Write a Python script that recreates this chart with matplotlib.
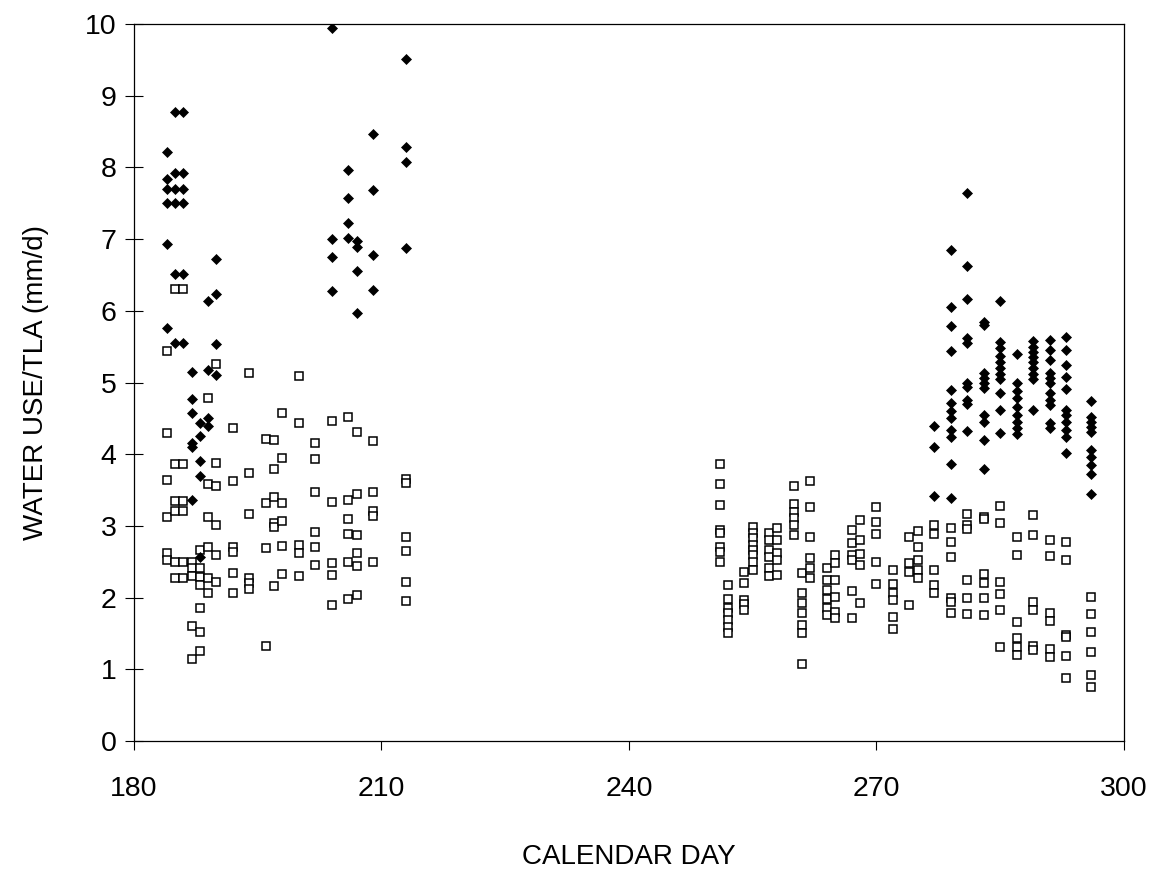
import matplotlib
matplotlib.use("Agg")
import matplotlib.pyplot as plt
import numpy as np

plt.rcParams['font.family'] = ['Liberation Sans', 'DejaVu Sans']

# ---- Data: filled diamonds (one group of readings per calendar day) ----
filled_days = [184, 185, 186, 187, 188, 189, 190,
               204, 206, 207, 209, 213,
               277, 279, 281, 283, 285, 287, 289, 291, 293, 296]
filled_vals = [
    [8.22, 7.84, 7.70, 7.51, 6.93, 5.76],
    [8.77, 7.92, 7.70, 7.51, 6.51, 5.55],
    [8.77, 7.92, 7.70, 7.51, 6.51, 5.55],
    [5.14, 4.77, 4.58, 4.16, 4.10, 3.36],
    [4.44, 4.25, 3.91, 3.70, 2.57],
    [6.13, 5.17, 4.50, 4.40],
    [6.72, 6.23, 5.54, 5.10],
    [9.94, 7.00, 6.75, 6.27],
    [7.96, 7.58, 7.22, 7.02],
    [6.98, 6.89, 6.56, 5.97],
    [8.46, 7.68, 6.78, 6.29],
    [9.51, 8.28, 8.08, 6.87],
    [4.40, 4.10, 3.42],
    [6.85, 6.05, 5.79, 5.44, 4.90, 4.72, 4.60, 4.50, 4.34, 4.24, 3.86, 3.39],
    [7.64, 6.62, 6.16, 5.62, 5.55, 5.00, 4.94, 4.76, 4.70, 4.32],
    [5.85, 5.80, 5.13, 5.06, 4.99, 4.92, 4.55, 4.45, 4.20, 3.79],
    [6.14, 5.57, 5.48, 5.37, 5.28, 5.20, 5.12, 5.05, 4.85, 4.61, 4.29],
    [5.40, 4.99, 4.88, 4.78, 4.66, 4.55, 4.45, 4.36, 4.28],
    [5.58, 5.50, 5.42, 5.35, 5.28, 5.20, 5.12, 5.05, 4.62],
    [5.59, 5.45, 5.31, 5.13, 5.06, 4.99, 4.85, 4.76, 4.69, 4.44, 4.36],
    [5.64, 5.46, 5.24, 5.07, 4.91, 4.62, 4.55, 4.45, 4.34, 4.24, 4.01],
    [4.74, 4.52, 4.45, 4.38, 4.31, 4.06, 3.96, 3.85, 3.73, 3.44],
]

# ---- Data: open squares ----
open_days = [184, 185, 186, 187, 188, 189, 190, 192, 194, 196, 197, 198,
             200, 202, 204, 206, 207, 209, 213,
             251, 252, 254, 255, 257, 258, 260, 261, 262, 264, 265, 267,
             268, 270, 272, 274, 275, 277, 279, 281, 283, 285, 287, 289,
             291, 293, 296]
open_vals = [
    [5.44, 4.30, 3.64, 3.12, 2.62, 2.53],
    [6.30, 3.87, 3.35, 3.21, 2.49, 2.27],
    [6.30, 3.87, 3.35, 3.21, 2.49, 2.27],
    [2.49, 2.41, 2.30, 1.61, 1.14],
    [2.67, 2.41, 2.29, 2.18, 1.85, 1.52, 1.25],
    [4.79, 3.59, 3.13, 2.70, 2.27, 2.06],
    [5.26, 3.88, 3.56, 3.01, 2.59, 2.22],
    [4.36, 3.63, 2.71, 2.63, 2.34, 2.07],
    [5.13, 3.74, 3.17, 2.28, 2.21, 2.12],
    [4.21, 3.32, 2.69, 1.33],
    [4.20, 3.80, 3.40, 3.04, 2.99, 2.16],
    [4.57, 3.94, 3.32, 3.07, 2.72, 2.33],
    [5.09, 4.43, 2.74, 2.62, 2.30],
    [4.15, 3.93, 3.47, 2.92, 2.71, 2.45],
    [4.47, 3.33, 2.48, 2.32, 1.90],
    [4.52, 3.36, 3.10, 2.89, 2.49, 1.98],
    [4.31, 3.45, 2.87, 2.62, 2.44, 2.03],
    [4.19, 3.47, 3.21, 3.14, 2.49],
    [3.65, 3.60, 2.84, 2.65, 2.22, 1.95],
    [3.86, 3.58, 3.29, 2.94, 2.90, 2.71, 2.64, 2.49],
    [2.18, 1.98, 1.86, 1.78, 1.69, 1.59, 1.50],
    [2.36, 2.20, 1.97, 1.91, 1.83],
    [2.99, 2.90, 2.83, 2.73, 2.66, 2.59, 2.50, 2.38],
    [2.90, 2.80, 2.66, 2.57, 2.41, 2.30],
    [2.97, 2.80, 2.62, 2.52, 2.32],
    [3.56, 3.31, 3.20, 3.11, 3.01, 2.87],
    [2.34, 2.06, 1.92, 1.79, 1.62, 1.51, 1.07],
    [3.63, 3.27, 2.85, 2.55, 2.41, 2.27],
    [2.41, 2.25, 2.11, 1.98, 1.85, 1.76],
    [2.59, 2.48, 2.25, 2.01, 1.80, 1.71],
    [2.94, 2.76, 2.60, 2.53, 2.09, 1.71],
    [3.08, 2.81, 2.61, 2.45, 1.93],
    [3.26, 3.06, 2.89, 2.50, 2.19],
    [2.39, 2.19, 2.06, 1.97, 1.73, 1.56],
    [2.85, 2.48, 2.36, 1.90],
    [2.93, 2.71, 2.52, 2.38, 2.27],
    [3.01, 2.88, 2.38, 2.18, 2.07],
    [2.97, 2.77, 2.56, 1.99, 1.94, 1.78],
    [3.17, 3.01, 2.95, 2.24, 2.00, 1.77],
    [3.13, 3.09, 2.33, 2.20, 2.00, 1.76],
    [3.28, 3.04, 2.22, 2.05, 1.82, 1.31],
    [2.85, 2.59, 1.66, 1.43, 1.31, 1.20],
    [3.15, 2.87, 1.94, 1.82, 1.32, 1.27],
    [2.81, 2.58, 1.78, 1.68, 1.28, 1.17],
    [2.77, 2.53, 1.48, 1.45, 1.18, 0.88],
    [2.01, 1.77, 1.52, 1.24, 0.92, 0.75],
]

x_ticks = [180, 210, 240, 270, 300]
y_ticks = list(range(0, 11))


def expand(days, vals):
    xs = np.repeat(days, [len(v) for v in vals])
    ys = np.concatenate([np.asarray(v, float) for v in vals])
    return xs, ys


fx, fy = expand(filled_days, filled_vals)
ox, oy = expand(open_days, open_vals)

fig = plt.figure(figsize=(11.59, 8.77), dpi=100)
ax = fig.add_axes([0.1156, 0.1551, 0.8542, 0.8175])

ax.plot(ox, oy, linestyle='none', marker='s', markersize=6.2,
        markerfacecolor='white', markeredgecolor='black', markeredgewidth=1.1,
        zorder=3)
ax.plot(fx, fy, linestyle='none', marker='D', markersize=5.2,
        markerfacecolor='black', markeredgecolor='black', markeredgewidth=0.5,
        zorder=4)

ax.set_xlim(180, 300)
ax.set_ylim(0, 10)
ax.set_xticks(x_ticks)
ax.set_yticks(y_ticks)

ax.tick_params(axis='x', direction='out', length=6.5, width=0.8,
               labelsize=20.5, pad=19)
ax.tick_params(axis='y', direction='inout', length=13, width=0.8,
               labelsize=20.5, pad=6)

for s in ax.spines.values():
    s.set_linewidth(0.9)
    s.set_color('black')

ax.set_xlabel('CALENDAR DAY', fontsize=20, labelpad=30)
ax.set_ylabel('WATER USE/TLA (mm/d)', fontsize=20, labelpad=26)

fig.savefig('out.png', dpi=100, facecolor='white')
